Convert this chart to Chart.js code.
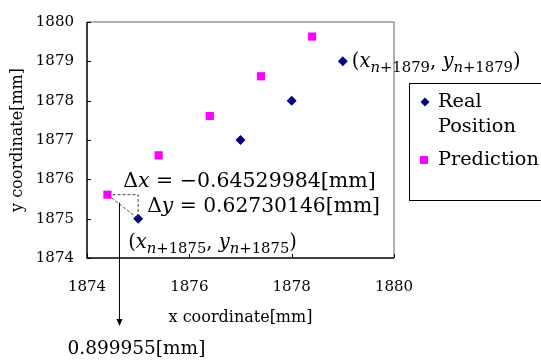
<!DOCTYPE html>
<html>
<head>
<meta charset="utf-8">
<script src="https://cdn.jsdelivr.net/npm/chart.js@4"></script>
<style>
  body { margin: 0; background: #fff; }
  canvas { display: block; }
</style>
</head>
<body>
<canvas id="myChart" width="541" height="362"></canvas>
<script>
// data
const realX = [1875, 1877, 1878, 1879];
const realY = [1875, 1877, 1878, 1879];
const predX = [1874.4, 1875.4, 1876.4, 1877.4, 1878.4];
const predY = [1875.61, 1876.61, 1877.61, 1878.62, 1879.63];
const seriesNames = ["Real Position", "Prediction"];
const dxText = "−0.64529984[mm]";
const dyText = "0.62730146[mm]";
const distText = "0.899955[mm]";

const SERIF = "'DejaVu Serif', 'Liberation Serif', serif";

// draws a run of text pieces, some italic, some subscript
const drawRich = (ctx, parts, x, y, size, subSize) => {
    ctx.textBaseline = "alphabetic";
    ctx.textAlign = "left";
    for (const p of parts) {
        const s = p.sub ? subSize : size;
        ctx.font = (p.it ? "italic " : "") + s + "px " + SERIF;
        ctx.fillText(p.t, x, y + (p.sub ? size * 0.25 : 0));
        x += ctx.measureText(p.t).width;
    }
};

const sub = n => [{ t: "n", it: true, sub: true }, { t: "+" + n, sub: true }];

const extras = {
    id: "extras",
    afterDraw(chart) {
        const ctx = chart.ctx;
        const a = chart.chartArea;
        const sx = chart.scales.x, sy = chart.scales.y;
        ctx.save();

        // frame: left/bottom black, top/right gray
        ctx.lineWidth = 1.5;
        ctx.strokeStyle = "#999";
        ctx.beginPath();
        ctx.moveTo(a.left, a.top); ctx.lineTo(a.right, a.top); ctx.lineTo(a.right, a.bottom);
        ctx.stroke();
        ctx.strokeStyle = "#000";
        ctx.beginPath();
        ctx.moveTo(a.left, a.top); ctx.lineTo(a.left, a.bottom); ctx.lineTo(a.right, a.bottom);
        ctx.stroke();

        // inward tick marks
        ctx.lineWidth = 1;
        sy.ticks.forEach(t => {
            const py = Math.round(sy.getPixelForValue(t.value)) + 0.5;
            ctx.beginPath(); ctx.moveTo(a.left, py); ctx.lineTo(a.left + 4, py); ctx.stroke();
        });
        sx.ticks.forEach(t => {
            const px = Math.round(sx.getPixelForValue(t.value)) + 0.5;
            ctx.beginPath(); ctx.moveTo(px, a.bottom); ctx.lineTo(px, a.bottom - 4); ctx.stroke();
        });

        // axis titles
        ctx.fillStyle = "#000";
        ctx.font = "16px " + SERIF;
        ctx.textAlign = "center";
        ctx.textBaseline = "middle";
        ctx.fillText("x coordinate[mm]", (a.left + a.right) / 2, 318);
        ctx.save();
        ctx.translate(18, (a.top + a.bottom) / 2);
        ctx.rotate(-Math.PI / 2);
        ctx.fillText("y coordinate[mm]", 0, 0);
        ctx.restore();

        // error triangle between first prediction and first real point
        const p0x = sx.getPixelForValue(predX[0]), p0y = sy.getPixelForValue(predY[0]);
        const r0x = sx.getPixelForValue(realX[0]), r0y = sy.getPixelForValue(realY[0]);
        ctx.strokeStyle = "#444";
        ctx.setLineDash([3, 2]);
        ctx.beginPath();
        ctx.moveTo(p0x, p0y); ctx.lineTo(r0x, p0y); ctx.lineTo(r0x, r0y);
        ctx.moveTo(p0x, p0y); ctx.lineTo(r0x, r0y);
        ctx.stroke();
        ctx.setLineDash([]);

        // arrow down to the distance label
        const ax = p0x + 12;
        ctx.strokeStyle = "#000";
        ctx.beginPath(); ctx.moveTo(ax, p0y + 8); ctx.lineTo(ax, 322); ctx.stroke();
        ctx.beginPath(); ctx.moveTo(ax - 3, 319); ctx.lineTo(ax + 3, 319); ctx.lineTo(ax, 326); ctx.closePath(); ctx.fill();
        ctx.font = "18.5px " + SERIF;
        ctx.textAlign = "center";
        ctx.textBaseline = "middle";
        ctx.fillText(distText, ax + 17, 349);

        // math labels
        drawRich(ctx, [{ t: "Δ" }, { t: "x", it: true }, { t: " = " + dxText }], r0x - 15, p0y - 8, 20.5);
        drawRich(ctx, [{ t: "Δ" }, { t: "y", it: true }, { t: " = " + dyText }], r0x + 9, p0y + 17, 20.3);
        drawRich(ctx, [{ t: "(" }, { t: "x", it: true }, ...sub(1875),
            { t: ", " }, { t: "y", it: true }, ...sub(1875), { t: ")" }], r0x - 10, r0y + 29, 19.5, 14.8);
        const r3x = sx.getPixelForValue(realX[3]), r3y = sy.getPixelForValue(realY[3]);
        drawRich(ctx, [{ t: "(" }, { t: "x", it: true }, ...sub(1879),
            { t: ", " }, { t: "y", it: true }, ...sub(1879), { t: ")" }], r3x + 9, r3y + 6, 19.5, 14.8);

        // legend box
        ctx.lineWidth = 1;
        ctx.strokeStyle = "#000";
        ctx.strokeRect(409.5, 83.5, 140, 117);
        ctx.font = "19.3px " + SERIF;
        ctx.textAlign = "left";
        ctx.textBaseline = "middle";
        ctx.fillStyle = "#000";
        ctx.fillText("Real", 438, 102);
        ctx.fillText("Position", 438, 127);
        ctx.fillText("Prediction", 438, 160);
        ctx.fillStyle = "#000080";
        ctx.beginPath();
        ctx.moveTo(425, 97.5); ctx.lineTo(429.5, 102); ctx.lineTo(425, 106.5); ctx.lineTo(420.5, 102); ctx.closePath();
        ctx.fill();
        ctx.fillStyle = "#ff00ff";
        ctx.fillRect(420, 156, 8, 8);

        ctx.restore();
    }
};

new Chart(document.getElementById("myChart"), {
    type: "scatter",
    data: {
        datasets: [
            {
                label: seriesNames[0],
                data: realX.map((x, i) => ({ x: x, y: realY[i] })),
                pointStyle: "rectRot",
                pointRadius: 5,
                backgroundColor: "#000080",
                borderColor: "#000080",
                borderWidth: 0
            },
            {
                label: seriesNames[1],
                data: predX.map((x, i) => ({ x: x, y: predY[i] })),
                pointStyle: "rect",
                pointRadius: 5.8,
                backgroundColor: "#ff00ff",
                borderColor: "#ff00ff",
                borderWidth: 0
            }
        ]
    },
    options: {
        responsive: false,
        animation: false,
        layout: { padding: { left: 0, top: 10, right: 147, bottom: 0 } },
        plugins: { legend: { display: false }, tooltip: { enabled: false } },
        scales: {
            x: {
                min: 1874, max: 1880,
                grid: { display: false, drawTicks: false },
                border: { display: false },
                ticks: { stepSize: 2, padding: 20, color: "#000", font: { family: SERIF, size: 15 }, callback: v => String(v) },
                afterFit: s => { s.height = 104; }
            },
            y: {
                min: 1874, max: 1880,
                grid: { display: false, drawTicks: false },
                border: { display: false },
                ticks: { stepSize: 1, padding: 13, color: "#000", font: { family: SERIF, size: 15 }, callback: v => String(v) },
                afterFit: s => { s.width = 87; }
            }
        }
    },
    plugins: [extras]
});
</script>
</body>
</html>
